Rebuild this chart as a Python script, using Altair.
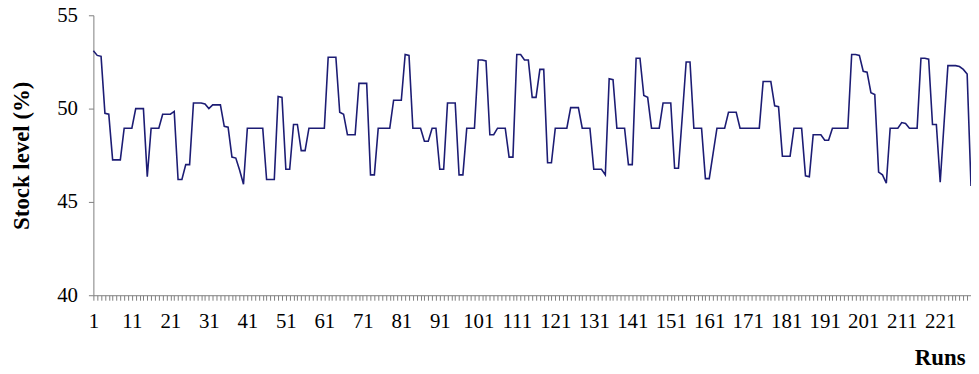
import altair as alt
import pandas as pd

runs = list(range(1, 230))

stock = [
    53.1, 52.85, 52.8, 49.75, 49.7, 47.25, 47.25, 47.25, 48.95, 48.95,
    48.95, 50.0, 50.0, 50.0, 46.35, 48.95, 48.95, 48.95, 49.7, 49.7,
    49.7, 49.85, 46.2, 46.2, 47.0, 47.0, 50.3, 50.3, 50.3, 50.25,
    50.0, 50.2, 50.2, 50.2, 49.05, 49.0, 47.4, 47.35, 46.7, 45.95,
    48.95, 48.95, 48.95, 48.95, 48.95, 46.2, 46.2, 46.2, 50.65, 50.6,
    46.75, 46.75, 49.15, 49.15, 47.75, 47.75, 48.95, 48.95, 48.95, 48.95,
    48.95, 52.75, 52.75, 52.75, 49.8, 49.7, 48.6, 48.6, 48.6, 51.35,
    51.35, 51.35, 46.45, 46.45, 48.95, 48.95, 48.95, 48.95, 50.45, 50.45,
    50.45, 52.9, 52.85, 48.95, 48.95, 48.95, 48.25, 48.25, 48.95, 48.95,
    46.75, 46.75, 50.3, 50.3, 50.3, 46.45, 46.45, 48.95, 48.95, 48.95,
    52.6, 52.6, 52.55, 48.6, 48.6, 48.95, 48.95, 48.95, 47.4, 47.4,
    52.9, 52.9, 52.6, 52.6, 50.6, 50.6, 52.1, 52.1, 47.1, 47.1,
    48.95, 48.95, 48.95, 48.95, 50.05, 50.05, 50.05, 48.95, 48.95, 48.95,
    46.75, 46.75, 46.75, 46.45, 51.6, 51.55, 48.95, 48.95, 48.95, 47.0,
    47.0, 52.7, 52.7, 50.7, 50.6, 48.95, 48.95, 48.95, 50.3, 50.3,
    50.3, 46.8, 46.8, 49.6, 52.5, 52.5, 48.95, 48.95, 48.95, 46.25,
    46.25, 47.6, 48.95, 48.95, 48.95, 49.8, 49.8, 49.8, 48.95, 48.95,
    48.95, 48.95, 48.95, 48.95, 51.45, 51.45, 51.45, 50.15, 50.1, 47.45,
    47.45, 47.45, 48.95, 48.95, 48.95, 46.4, 46.35, 48.6, 48.6, 48.6,
    48.3, 48.3, 48.95, 48.95, 48.95, 48.95, 48.95, 52.9, 52.9, 52.85,
    52.0, 51.95, 50.85, 50.75, 46.6, 46.45, 46.0, 48.95, 48.95, 48.95,
    49.25, 49.2, 48.95, 48.95, 48.95, 52.7, 52.7, 52.65, 49.15, 49.15,
    46.05, 49.2, 52.3, 52.3, 52.3, 52.25, 52.1, 51.85, 45.85,
]

y_ticks = [40, 45, 50, 55]
x_label_runs = list(range(1, 230, 10))

df = pd.DataFrame({"run": runs, "stock": stock})

label_test = " || ".join(f"datum.value == {v}" for v in x_label_runs)

chart = alt.Chart(df).mark_line(color="#1c1c74", strokeWidth=1.6).encode(
    x=alt.X(
        "run:Q",
        scale=alt.Scale(domain=[1, 229], nice=False, zero=False),
        axis=alt.Axis(
            values=runs,
            format="d",
            labelExpr=f"({label_test}) ? datum.label : ''",
            labelOverlap=False,
            labelFlush=False,
            labelBound=False,
            title="Runs",
            titleX=878,
            titleY=70,
            titleAlign="right",
            titleBaseline="alphabetic",
            titleAngle=0,
        ),
    ),
    y=alt.Y(
        "stock:Q",
        scale=alt.Scale(domain=[40, 55], nice=False, zero=False),
        axis=alt.Axis(
            values=y_ticks,
            format="d",
            title="Stock level (%)",
            titleX=-72,
            titleY=141,
            titleAngle=270,
            titleAlign="center",
            titleBaseline="middle",
            labelFlush=False,
        ),
    ),
).properties(
    width=884,
    height=282,
    autosize=alt.AutoSizeParams(type="none"),
    padding={"left": 86, "top": 6, "right": 0, "bottom": 76},
    background="white",
).configure_axis(
    grid=False,
    domainColor="#7f7f7f",
    tickColor="#7f7f7f",
    tickSize=5,
    labelPadding=11,
    labelFont="Liberation Serif",
    labelFontSize=21,
    labelColor="#000000",
    titleFont="Liberation Serif",
    titleFontSize=23,
    titleFontWeight="bold",
    titleColor="#000000",
).configure_view(strokeWidth=0)

chart.save("out.html", embed_options={"renderer": "svg", "actions": False})
